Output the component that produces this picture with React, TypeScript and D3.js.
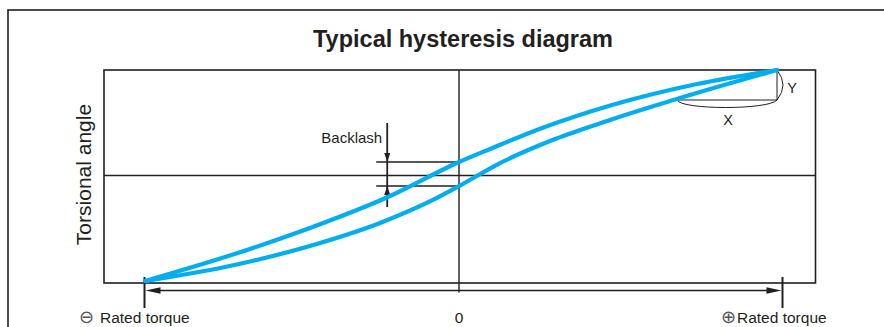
import React from "react";
import * as d3 from "d3";

// Torque (fraction of rated torque) and torsional angle (fraction of max)
const upperTorque = [-0.998, -0.744, -0.474, -0.226, 0, 0.096, 0.257, 0.473, 0.736, 0.983];
const upperAngle = [-1.0, -0.773, -0.498, -0.204, 0.128, 0.251, 0.45, 0.668, 0.867, 1.0];
const lowerTorque = [-0.998, -0.744, -0.474, -0.251, -0.083, 0, 0.127, 0.297, 0.467, 0.745, 0.983];
const lowerAngle = [-1.0, -0.867, -0.668, -0.45, -0.232, -0.1, 0.118, 0.346, 0.526, 0.791, 1.0];

const torqueTicks = [-1, 0, 1];
const torqueLabels = ["Rated torque", "0", "Rated torque"];
const torqueSigns = ["\u2296", "", "\u2295"];
const backlashTorque = -0.26;
const title = "Typical hysteresis diagram";
const yTitle = "Torsional angle";

const W = 884;
const H = 327;
const INK = "#231f20";
const BLUE = "#00aeef";
const FONT = "'Liberation Sans', Arial, Helvetica, sans-serif";

export default function App() {
  const x = d3.scaleLinear().domain([-1, 0, 1]).range([144.5, 459, 782.5]);
  const y = d3.scaleLinear().domain([-1, 1]).range([281, 70]);

  const box = { x0: 104, x1: 815.5, y0: 70, y1: 283 };
  const arrowY = 290.5;

  const line = d3
    .line<[number, number]>()
    .x((d) => x(d[0]))
    .y((d) => y(d[1]))
    .curve(d3.curveMonotoneX);

  const upper = upperTorque.map((t, i) => [t, upperAngle[i]] as [number, number]);
  const lower = lowerTorque.map((t, i) => [t, lowerAngle[i]] as [number, number]);

  const yUp = y(upperAngle[upperTorque.indexOf(0)]);
  const yLo = y(lowerAngle[lowerTorque.indexOf(0)]);
  const bx = x(backlashTorque) + 10;
  const x0 = x(0);

  const endX = x(upperTorque[upperTorque.length - 1]);
  const endY = y(1);
  const cornerY = endY + 30;
  const cornerX = endX - 100;

  const labelPos = [
    { sign: 86.5, text: 100, anchor: "start" },
    { sign: 0, text: x(0), anchor: "middle" },
    { sign: 728.5, text: 737, anchor: "start" },
  ];

  return (
    <svg
      width={W}
      height={H}
      style={{ position: "absolute", left: 0, top: 0, display: "block" }}
      fontFamily={FONT}
    >
      <rect x={0} y={0} width={W} height={H} fill="#fff" />
      {/* outer frame */}
      <rect x={8} y={10} width={W + 40} height={H + 40} fill="none" stroke={INK} strokeWidth={1.6} />
      <text x={463} y={47} textAnchor="middle" fontSize={23.5} fontWeight="bold" fill={INK}>
        {title}
      </text>
      {/* plot box */}
      <rect
        x={box.x0}
        y={box.y0}
        width={box.x1 - box.x0}
        height={box.y1 - box.y0}
        fill="none"
        stroke={INK}
        strokeWidth={1.6}
      />
      <line x1={box.x0} x2={box.x1} y1={y(0)} y2={y(0)} stroke={INK} strokeWidth={1.4} />
      <line x1={x0} x2={x0} y1={box.y0} y2={arrowY + 2} stroke={INK} strokeWidth={1.4} />

      <text
        transform={`translate(91,${y(0) - 1}) rotate(-90)`}
        textAnchor="middle"
        fontSize={21}
        fill={INK}
      >
        {yTitle}
      </text>

      {/* torque arrow */}
      <line x1={x(-1) + 8} x2={x(1) - 8} y1={arrowY} y2={arrowY} stroke={INK} strokeWidth={1.6} />
      <path
        d={`M${x(-1) + 1},${arrowY} L${x(-1) + 16},${arrowY - 3.2} L${x(-1) + 16},${arrowY + 3.2} Z`}
        fill={INK}
      />
      <path
        d={`M${x(1) - 1},${arrowY} L${x(1) - 16},${arrowY - 3.2} L${x(1) - 16},${arrowY + 3.2} Z`}
        fill={INK}
      />
      {[-1, 1].map((t) => (
        <line key={t} x1={x(t)} x2={x(t)} y1={277} y2={308} stroke={INK} strokeWidth={2} />
      ))}
      {torqueTicks.map((t, i) => (
        <g key={t}>
          {torqueSigns[i] ? (
            <text
              x={labelPos[i].sign}
              y={323}
              textAnchor="middle"
              fontFamily="'DejaVu Sans', sans-serif"
              fontSize={18}
              fill="#555"
            >
              {torqueSigns[i]}
            </text>
          ) : null}
          <text
            x={labelPos[i].text}
            y={323}
            textAnchor={labelPos[i].anchor as any}
            fontSize={15.5}
            fill={INK}
          >
            {torqueLabels[i]}
          </text>
        </g>
      ))}

      {/* backlash marker */}
      <line x1={bx - 11} x2={x0} y1={yUp} y2={yUp} stroke={INK} strokeWidth={1.6} />
      <line x1={bx - 11} x2={x0} y1={yLo} y2={yLo} stroke={INK} strokeWidth={1.6} />
      <line x1={bx} x2={bx} y1={123} y2={207} stroke={INK} strokeWidth={1.8} />
      <path d={`M${bx},${yUp} L${bx - 3},${yUp - 9} L${bx + 3},${yUp - 9} Z`} fill={INK} />
      <path d={`M${bx},${yLo} L${bx - 3},${yLo + 9} L${bx + 3},${yLo + 9} Z`} fill={INK} />
      <text x={bx - 5} y={143} textAnchor="end" fontSize={15} fill={INK}>
        Backlash
      </text>

      {/* X / Y detail */}
      <line x1={endX} x2={endX} y1={endY} y2={cornerY} stroke={INK} strokeWidth={1} />
      <line x1={cornerX} x2={endX} y1={cornerY} y2={cornerY} stroke={INK} strokeWidth={1} />
      <path
        d={`M${endX},${endY} Q${endX + 12},${(endY + cornerY) / 2} ${endX},${cornerY}`}
        fill="none"
        stroke={INK}
        strokeWidth={1}
      />
      <path
        d={`M${cornerX},${cornerY} C${cornerX + 4},${cornerY + 10} ${endX - 8},${cornerY + 10} ${endX},${cornerY}`}
        fill="none"
        stroke={INK}
        strokeWidth={1}
      />
      <text x={792} y={93} textAnchor="middle" fontSize={14.5} fill={INK}>
        Y
      </text>
      <text x={728} y={125} textAnchor="middle" fontSize={14.5} fill={INK}>
        X
      </text>

      {/* hysteresis curves */}
      <path d={line(upper) ?? ""} fill="none" stroke={BLUE} strokeWidth={4.2} strokeLinecap="round" />
      <path d={line(lower) ?? ""} fill="none" stroke={BLUE} strokeWidth={4.2} strokeLinecap="round" />
    </svg>
  );
}
